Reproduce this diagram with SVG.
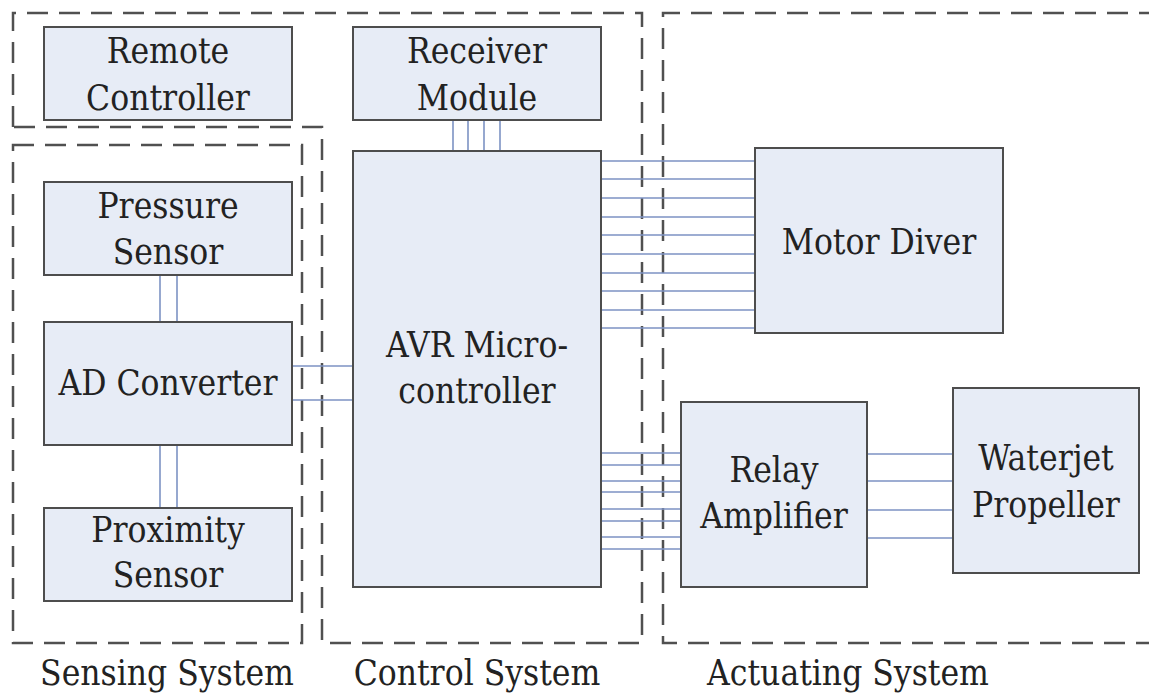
<svg xmlns="http://www.w3.org/2000/svg" width="1149" height="696" viewBox="0 0 1149 696">
  <style>
    .region { fill: none; stroke: #505050; stroke-width: 2.5; stroke-dasharray: 21 11; }
    .box { fill: #e7ecf6; stroke: #4d4d4d; stroke-width: 2; }
    .wire { stroke: #7d93c4; stroke-width: 1.6; fill: none; }
    text { font-family: 'DejaVu Serif Condensed', 'DejaVu Serif', 'Liberation Serif', serif; font-stretch: condensed; font-size: 35px; fill: #222; text-anchor: middle; }
  </style>

  <!-- subsystem boundaries -->
  <g id="regions">
    <path class="region" d="M13,127 L13,13 L642,13 L642,643 L322,643 L322,127 Z"/>
    <rect class="region" x="13" y="145" width="289" height="498"/>
    <path class="region" d="M1160,13 L663,13 L663,643 L1160,643"/>
  </g>

  <!-- bus wiring between modules -->
  <g id="connectors">
    <!-- receiver to MCU -->
    <path class="wire" d="M453,120V151 M468,120V151 M484,120V151 M500,120V151"/>
    <!-- pressure sensor to ADC, ADC to proximity sensor -->
    <path class="wire" d="M160,275V322 M177,275V322 M160,445V508 M177,445V508"/>
    <!-- ADC to MCU -->
    <path class="wire" d="M292,366H353 M292,400H353"/>
    <!-- MCU to motor driver -->
    <path class="wire" d="M601,161H755 M601,179H755 M601,198H755 M601,217H755 M601,235H755 M601,254H755 M601,273H755 M601,291H755 M601,310H755 M601,328H755"/>
    <!-- MCU to relay amplifier -->
    <path class="wire" d="M601,453H681 M601,465H681 M601,481H681 M601,492H681 M601,509H681 M601,521H681 M601,537H681 M601,549H681"/>
    <!-- relay amplifier to propeller -->
    <path class="wire" d="M867,454H953 M867,481H953 M867,510H953 M867,538H953"/>
  </g>

  <g id="remote-controller">
    <rect class="box" x="44" y="27" width="248" height="93"/>
    <text x="168" y="63">Remote</text>
    <text x="168" y="110">Controller</text>
  </g>

  <g id="receiver-module">
    <rect class="box" x="353" y="27" width="248" height="93"/>
    <text x="477" y="63">Receiver</text>
    <text x="477" y="110">Module</text>
  </g>

  <g id="pressure-sensor">
    <rect class="box" x="44" y="182" width="248" height="93"/>
    <text x="168" y="218">Pressure</text>
    <text x="168" y="264">Sensor</text>
  </g>

  <g id="ad-converter">
    <rect class="box" x="44" y="322" width="248" height="123"/>
    <text x="168" y="395">AD Converter</text>
  </g>

  <g id="proximity-sensor">
    <rect class="box" x="44" y="508" width="248" height="93"/>
    <text x="168" y="542">Proximity</text>
    <text x="168" y="587">Sensor</text>
  </g>

  <g id="avr-microcontroller">
    <rect class="box" x="353" y="151" width="248" height="436"/>
    <text x="477" y="357">AVR Micro-</text>
    <text x="477" y="403">controller</text>
  </g>

  <g id="motor-driver">
    <rect class="box" x="755" y="148" width="248" height="185"/>
    <text x="879" y="254">Motor Diver</text>
  </g>

  <g id="relay-amplifier">
    <rect class="box" x="681" y="402" width="186" height="185"/>
    <text x="774" y="482">Relay</text>
    <text x="774" y="528">Amplifier</text>
  </g>

  <g id="waterjet-propeller">
    <rect class="box" x="953" y="388" width="186" height="185"/>
    <text x="1046" y="470">Waterjet</text>
    <text x="1046" y="517">Propeller</text>
  </g>

  <!-- subsystem captions -->
  <g id="captions">
    <text x="167" y="685">Sensing System</text>
    <text x="477" y="685">Control System</text>
    <text x="848" y="685">Actuating System</text>
  </g>
</svg>
